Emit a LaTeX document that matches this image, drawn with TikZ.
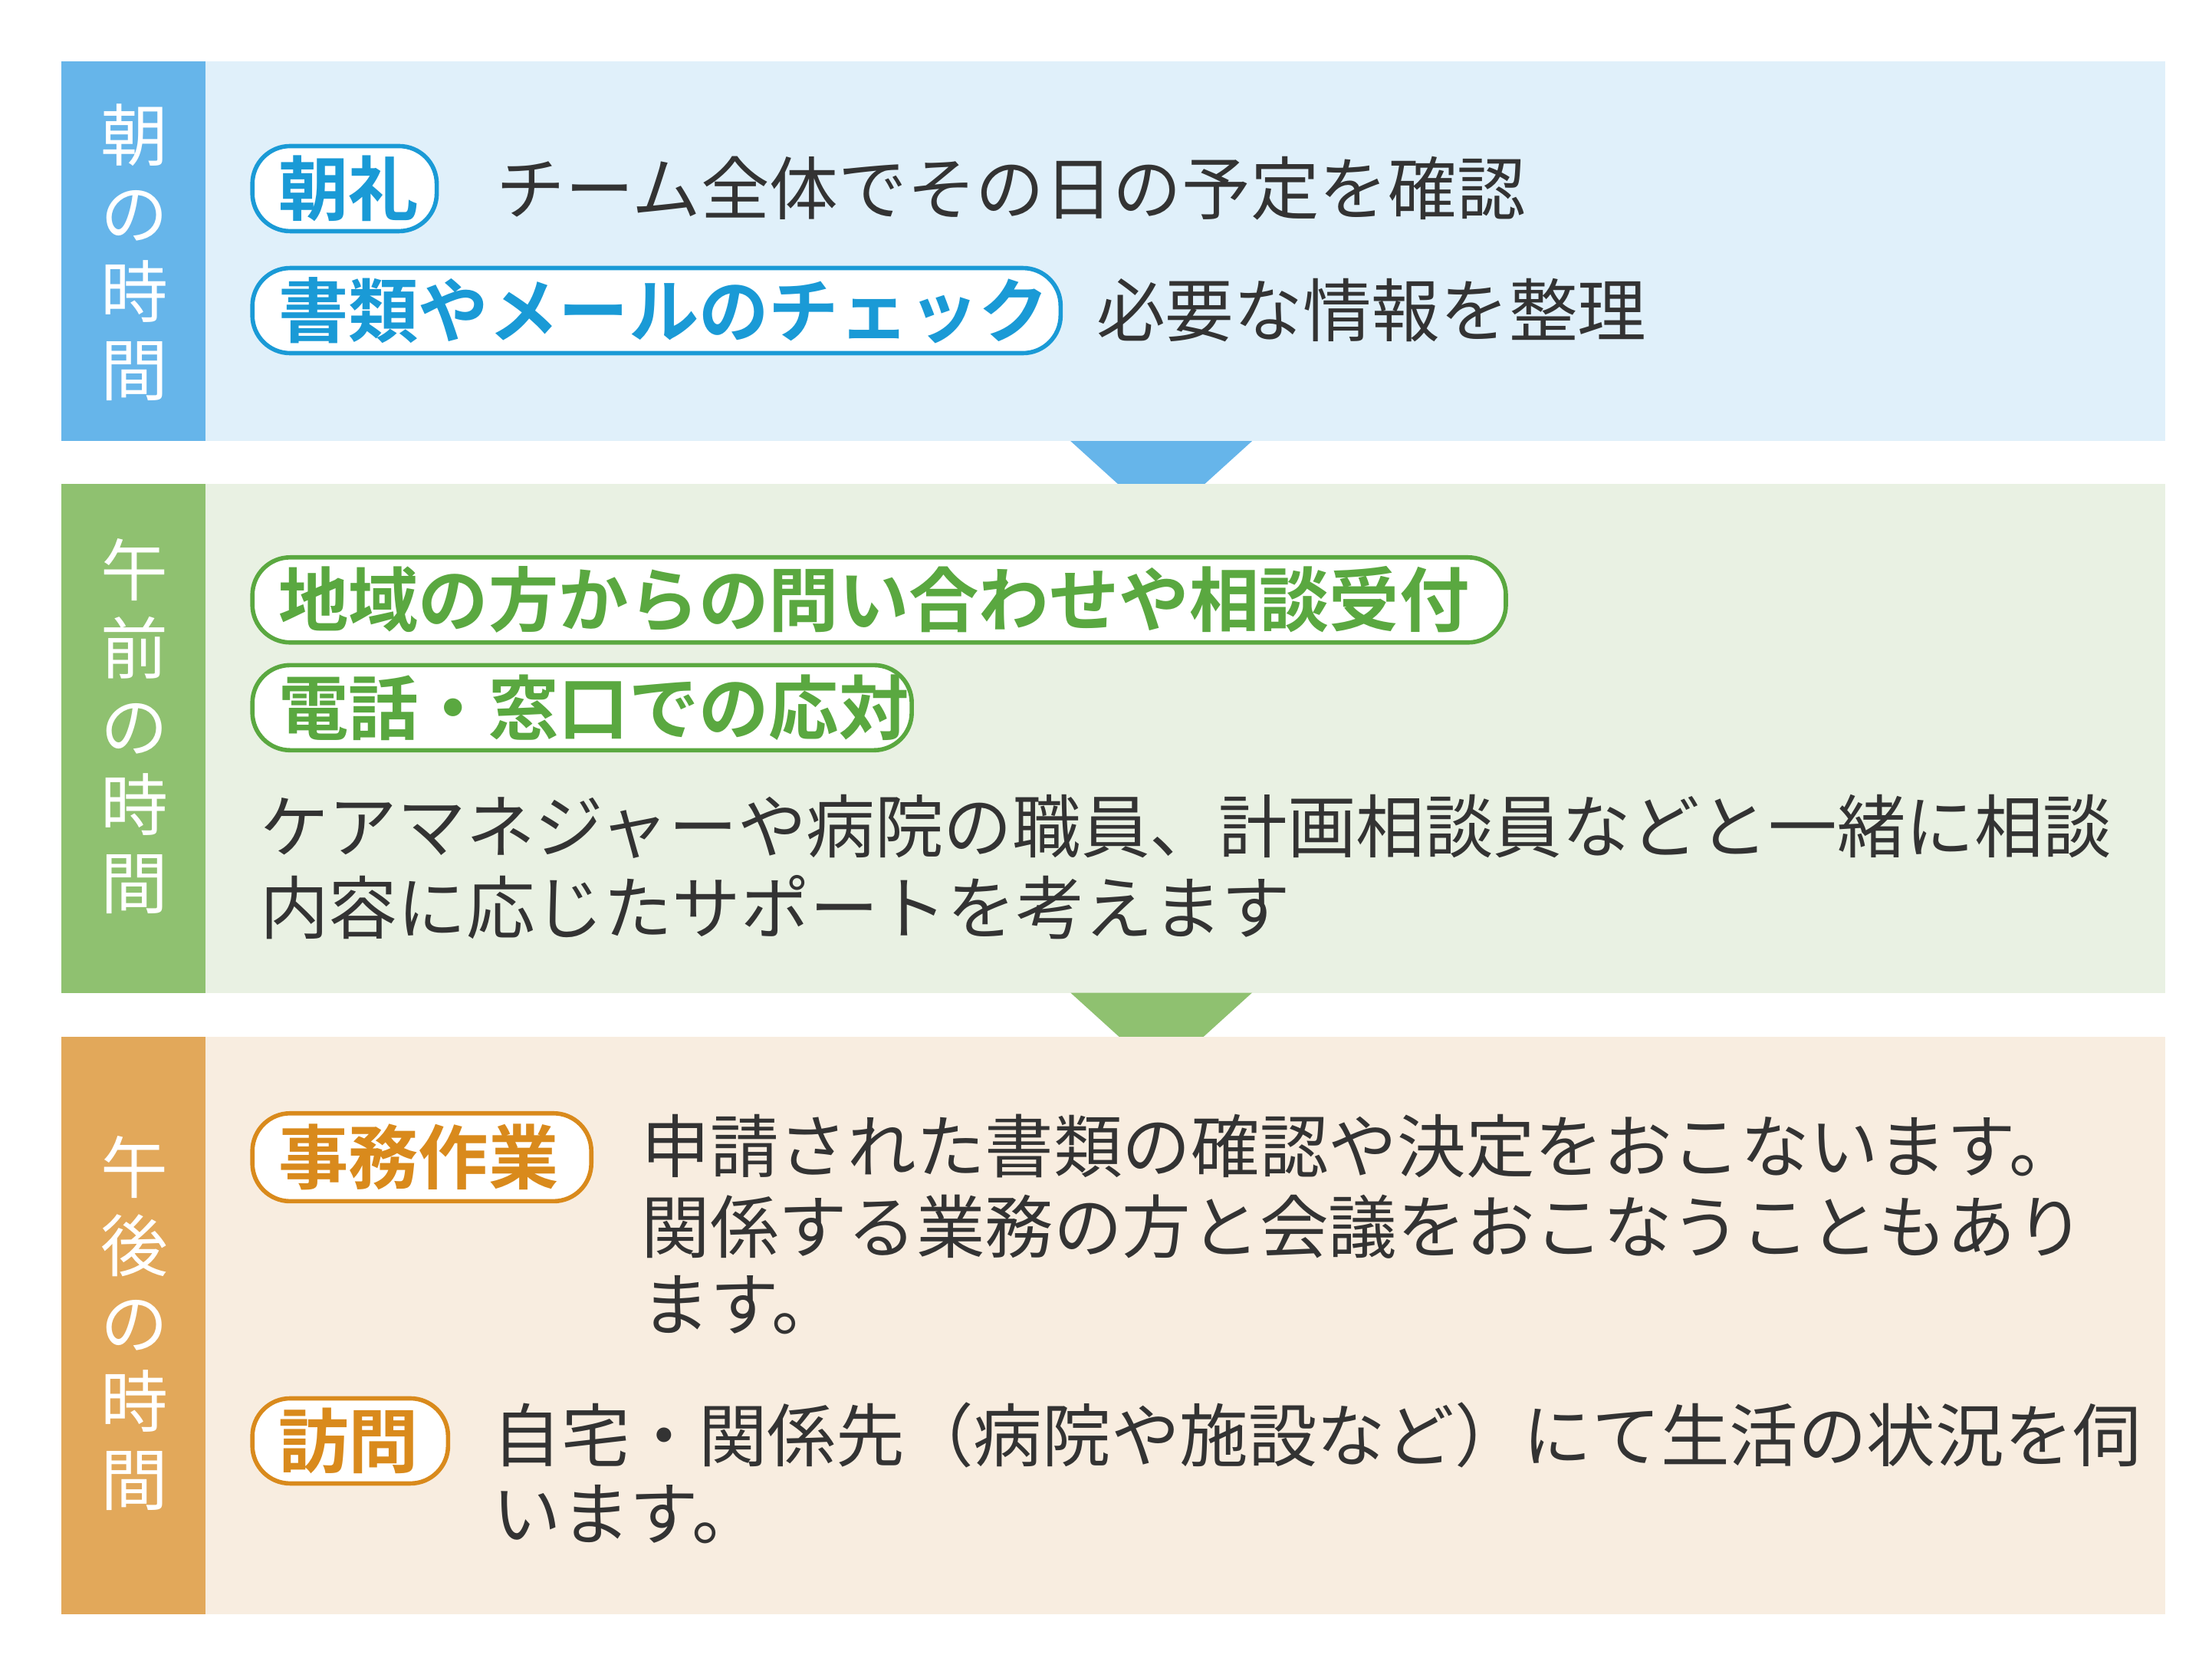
\documentclass[tikz,border=0pt]{standalone}
\usepackage{fontspec}
\setmainfont{Noto Sans CJK JP}
\newfontfamily\jpb{Noto Sans CJK JP Bold}
\definecolor{bA}{HTML}{66B5EA}\definecolor{bB}{HTML}{E0F0FA}\definecolor{bC}{HTML}{1A9AD6}
\definecolor{gA}{HTML}{8FC170}\definecolor{gB}{HTML}{E9F1E3}\definecolor{gC}{HTML}{5AA840}
\definecolor{oA}{HTML}{E2A85A}\definecolor{oB}{HTML}{F8EDE0}\definecolor{oC}{HTML}{D98A1C}
\definecolor{tx}{HTML}{333333}
\tikzset{
 body/.style={anchor=west,inner sep=0pt,font=\fontsize{25.5}{36}\selectfont,text=tx,align=left},
 pill/.style={draw=#1,line width=1.6pt,rounded corners=14pt,fill=white},
 ptext/.style={anchor=west,inner sep=0pt,font=\jpb\fontsize{26}{30}\selectfont,text=#1},
 vlab/.style={text=white,font=\fontsize{25}{29}\selectfont,align=center,inner sep=0pt}
}
\begin{document}
\begin{tikzpicture}[x=0.01849cm,y=-0.01849cm]
\useasboundingbox (0,0) rectangle (1560,1178);
% section 1
\fill[bB] (43,43) rectangle (1527,311);
\fill[bA] (43,43) rectangle (145,311);
\node[vlab] (v1) at (95,178) {朝\\の\\時\\間};
\fill[bA] (755,311) -- (883,311) -- (819,369) -- cycle;
\draw[pill=bC] (178,103) rectangle (308,163);
\node[ptext=bC] (p1) at (196,133) {朝礼};
\node[body] (t1) at (350,133) {チーム全体でその日の予定を確認};
\draw[pill=bC] (178,189) rectangle (748,249);
\node[ptext=bC] (p2) at (196,219) {書類やメールのチェック};
\node[body] (t2) at (773,219) {必要な情報を整理};
% section 2
\fill[gB] (43,341) rectangle (1527,700);
\fill[gA] (43,341) rectangle (145,700);
\node[vlab] (v2) at (95,512) {午\\前\\の\\時\\間};
\fill[gA] (755,700) -- (883,700) -- (819,758) -- cycle;
\draw[pill=gC] (178,393) rectangle (1062,453);
\node[ptext=gC] (p3) at (196,423) {地域の方からの問い合わせや相談受付};
\draw[pill=gC] (178,469) rectangle (643,529);
\node[ptext=gC] (p4) at (196,499) {電話・窓口での応対};
\node[body] (t3) at (183,583) {ケアマネジャーや病院の職員、計画相談員などと一緒に相談};
\node[body] (t4) at (183,640) {内容に応じたサポートを考えます};
% section 3
\fill[oB] (43,731) rectangle (1527,1138);
\fill[oA] (43,731) rectangle (145,1138);
\node[vlab] (v3) at (95,933) {午\\後\\の\\時\\間};
\draw[pill=oC] (178,785) rectangle (417,847);
\node[ptext=oC] (p5) at (196,816) {事務作業};
\node[body] (t5) at (452,808) {申請された書類の確認や決定をおこないます。};
\node[body] (t6) at (452,865) {関係する業務の方と会議をおこなうこともあり};
\node[body] (t7) at (452,920) {ます。};
\draw[pill=oC] (178,986) rectangle (316,1046);
\node[ptext=oC] (p6) at (196,1016) {訪問};
\node[body] (t8) at (347,1012) {自宅・関係先（病院や施設など）にて生活の状況を伺};
\node[body] (t9) at (347,1068) {います。};
\end{tikzpicture}
\end{document}
